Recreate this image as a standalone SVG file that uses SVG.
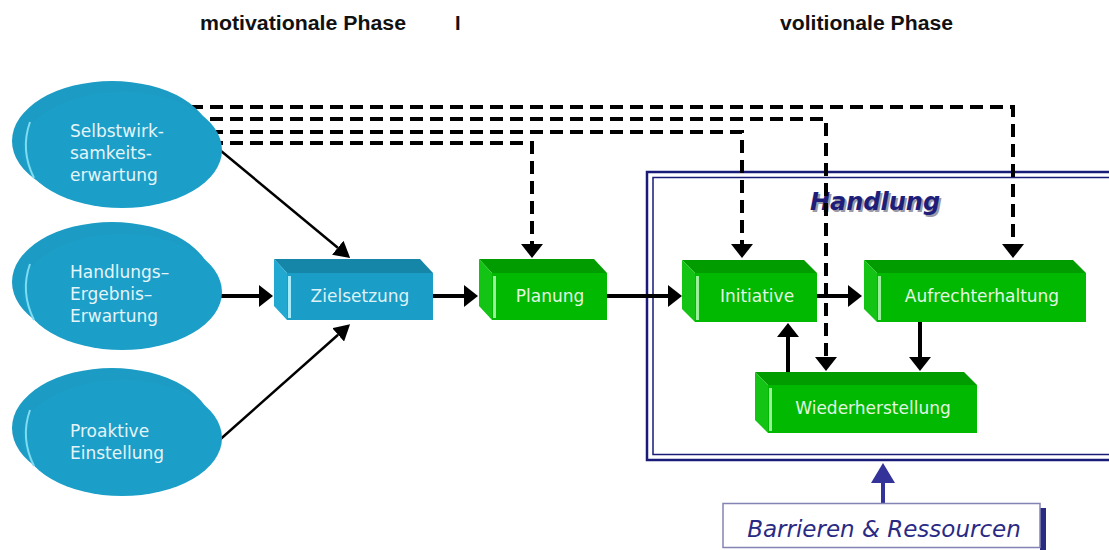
<svg xmlns="http://www.w3.org/2000/svg" width="1109" height="550" viewBox="0 0 1109 550">
  <style>
    .phase { font-family: "Liberation Sans", Arial, sans-serif; font-weight: bold; font-size: 20px; fill: #111; }
    .elltxt { font-family: "DejaVu Sans", Verdana, sans-serif; font-size: 17px; fill: #e4f4f8; }
    .boxtxt { font-family: "DejaVu Sans", Verdana, sans-serif; font-size: 17px; fill: #e2f6e2; text-anchor: middle; }
    .boxtxt.blue { fill: #dcf2f8; }
    .ell-back { fill: #1c9cc4; }
    .ell-front { fill: #1b9fc8; }
    .ell-hl { fill: none; stroke: #7fdcf2; stroke-width: 2; }
    .g-top { fill: #009c00; }
    .g-side { fill: #14c414; }
    .g-front { fill: #00b900; }
    .g-hl { fill: #9af09a; }
    .b-top { fill: #1585a8; }
    .b-side { fill: #22a9d2; }
    .b-front { fill: #1a9dc6; }
    .b-hl { fill: #a6ecfc; }
    .dash { fill: none; stroke: #000; stroke-width: 4; stroke-dasharray: 13 7; marker-end: url(#head); }
    .solid { fill: none; stroke: #000; stroke-width: 4; marker-end: url(#head); }
    .thin { fill: none; stroke: #000; stroke-width: 2.5; marker-end: url(#headS); }
    .frame-o { fill: none; stroke: #1a1a78; stroke-width: 2.5; }
    .frame-i { fill: none; stroke: #1a1a78; stroke-width: 1.5; }
  </style>
  <defs>
    <marker id="head" viewBox="0 0 14 22" refX="0" refY="11" markerWidth="14" markerHeight="22" markerUnits="userSpaceOnUse" orient="auto">
      <path d="M0,0 L14,11 L0,22 z" fill="#000"/>
    </marker>
    <marker id="headS" viewBox="0 0 16 18" refX="0" refY="9" markerWidth="16" markerHeight="18" markerUnits="userSpaceOnUse" orient="auto">
      <path d="M0,0 L16,9 L0,18 z" fill="#000"/>
    </marker>
    <marker id="headBlue" viewBox="0 0 20 24" refX="0" refY="12" markerWidth="20" markerHeight="24" markerUnits="userSpaceOnUse" orient="auto">
      <path d="M0,0 L20,12 L0,24 z" fill="#333399"/>
    </marker>
  </defs>

  <rect width="1109" height="550" fill="#fff"/>

  <!-- phase headings -->
  <g id="headings">
    <text class="phase" x="200" y="30" textLength="206" lengthAdjust="spacingAndGlyphs">motivationale Phase</text>
    <text class="phase" x="455" y="30">I</text>
    <text class="phase" x="780" y="30" textLength="173" lengthAdjust="spacingAndGlyphs">volitionale Phase</text>
  </g>

  <!-- action frame (double line, open to the right) -->
  <g id="handlung-frame">
    <rect class="frame-o" x="647" y="172" width="520" height="288"/>
    <rect class="frame-i" x="653" y="177.5" width="520" height="277"/>
    <text x="812" y="212" font-family="DejaVu Sans, Verdana, sans-serif" font-size="24" font-weight="bold" font-style="italic" fill="#9a9aa8">Handlung</text>
    <text x="810" y="210" font-family="DejaVu Sans, Verdana, sans-serif" font-size="24" font-weight="bold" font-style="italic" fill="#1e1e7a">Handlung</text>
  </g>

  <!-- connectors -->
  <g id="connectors">
    <path class="dash" d="M150 107 H1013 V244"/>
    <path class="dash" d="M150 119 H826 V357"/>
    <path class="dash" d="M150 132 H742 V244"/>
    <path class="dash" d="M150 143 H532 V244"/>
    <path class="thin" d="M215 146 L337.8 247.7"/>
    <path class="solid" d="M215 296 H259"/>
    <path class="thin" d="M215 444 L338.1 334.8"/>
    <path class="solid" d="M433 296 H464"/>
    <path class="solid" d="M607 296 H668" stroke-width="3"/>
    <path class="solid" d="M817 296 H848"/>
    <path class="solid" d="M920 322 V357"/>
    <path class="solid" d="M788 385 V337"/>
    <path d="M883 503 V483" fill="none" stroke="#333399" stroke-width="4" marker-end="url(#headBlue)"/>
  </g>

  <!-- motivational determinants -->
  <g id="selbstwirksamkeit">
    <ellipse class="ell-back" cx="112" cy="141" rx="100" ry="60"/>
    <ellipse class="ell-front" cx="122" cy="150" rx="100" ry="58"/>
    <path class="ell-hl" d="M30 122 Q20 150 34 178"/>
    <text class="elltxt" x="70" y="137">Selbstwirk-</text>
    <text class="elltxt" x="70" y="159">samkeits-</text>
    <text class="elltxt" x="70" y="181">erwartung</text>
  </g>

  <g id="ergebniserwartung">
    <ellipse class="ell-back" cx="112" cy="282" rx="100" ry="60"/>
    <ellipse class="ell-front" cx="122" cy="292" rx="100" ry="58"/>
    <path class="ell-hl" d="M30 264 Q20 292 34 320"/>
    <text class="elltxt" x="70" y="278">Handlungs–</text>
    <text class="elltxt" x="70" y="300">Ergebnis–</text>
    <text class="elltxt" x="70" y="322">Erwartung</text>
  </g>

  <g id="proaktiv">
    <ellipse class="ell-back" cx="112" cy="428" rx="100" ry="60"/>
    <ellipse class="ell-front" cx="122" cy="438" rx="100" ry="58"/>
    <path class="ell-hl" d="M30 410 Q20 438 34 466"/>
    <text class="elltxt" x="70" y="437">Proaktive</text>
    <text class="elltxt" x="70" y="459">Einstellung</text>
  </g>

  <!-- process boxes: front face + bevelled top and left side -->
  <g id="zielsetzung">
    <polygon class="b-top" points="274,259 420,259 433,273 287,273"/>
    <polygon class="b-side" points="274,259 287,273 287,320 274,306"/>
    <rect class="b-front" x="287" y="273" width="146" height="47"/>
    <rect class="b-hl" x="288" y="276" width="3" height="42"/>
    <text class="boxtxt blue" x="360" y="302">Zielsetzung</text>
  </g>

  <g id="planung">
    <polygon class="g-top" points="479,259 594,259 607,273 492,273"/>
    <polygon class="g-side" points="479,259 492,273 492,320 479,306"/>
    <rect class="g-front" x="492" y="273" width="115" height="47"/>
    <rect class="g-hl" x="493" y="276" width="3" height="42"/>
    <text class="boxtxt" x="550" y="302">Planung</text>
  </g>

  <g id="initiative">
    <polygon class="g-top" points="682,260 804,260 817,273 695,273"/>
    <polygon class="g-side" points="682,260 695,273 695,322 682,309"/>
    <rect class="g-front" x="695" y="273" width="122" height="49"/>
    <rect class="g-hl" x="696" y="276" width="3" height="44"/>
    <text class="boxtxt" x="757" y="302">Initiative</text>
  </g>

  <g id="aufrechterhaltung">
    <polygon class="g-top" points="864,260 1073,260 1086,273 877,273"/>
    <polygon class="g-side" points="864,260 877,273 877,322 864,309"/>
    <rect class="g-front" x="877" y="273" width="209" height="49"/>
    <rect class="g-hl" x="878" y="276" width="3" height="44"/>
    <text class="boxtxt" x="982" y="302">Aufrechterhaltung</text>
  </g>

  <g id="wiederherstellung">
    <polygon class="g-top" points="755,372 964,372 977,385 768,385"/>
    <polygon class="g-side" points="755,372 768,385 768,433 755,420"/>
    <rect class="g-front" x="768" y="385" width="209" height="48"/>
    <rect class="g-hl" x="769" y="388" width="3" height="43"/>
    <text class="boxtxt" x="873" y="414">Wiederherstellung</text>
  </g>

  <!-- barriers and resources -->
  <g id="barrieren">
    <rect x="1040" y="508" width="6" height="42" fill="#2a2a80"/>
    <rect x="723" y="503.5" width="317" height="44" fill="#fff" stroke="#8484b4" stroke-width="1.5"/>
    <text x="884" y="537" text-anchor="middle" font-family="DejaVu Sans, Verdana, sans-serif" font-size="23" font-style="italic" fill="#2a2a84">Barrieren &amp; Ressourcen</text>
  </g>
</svg>
